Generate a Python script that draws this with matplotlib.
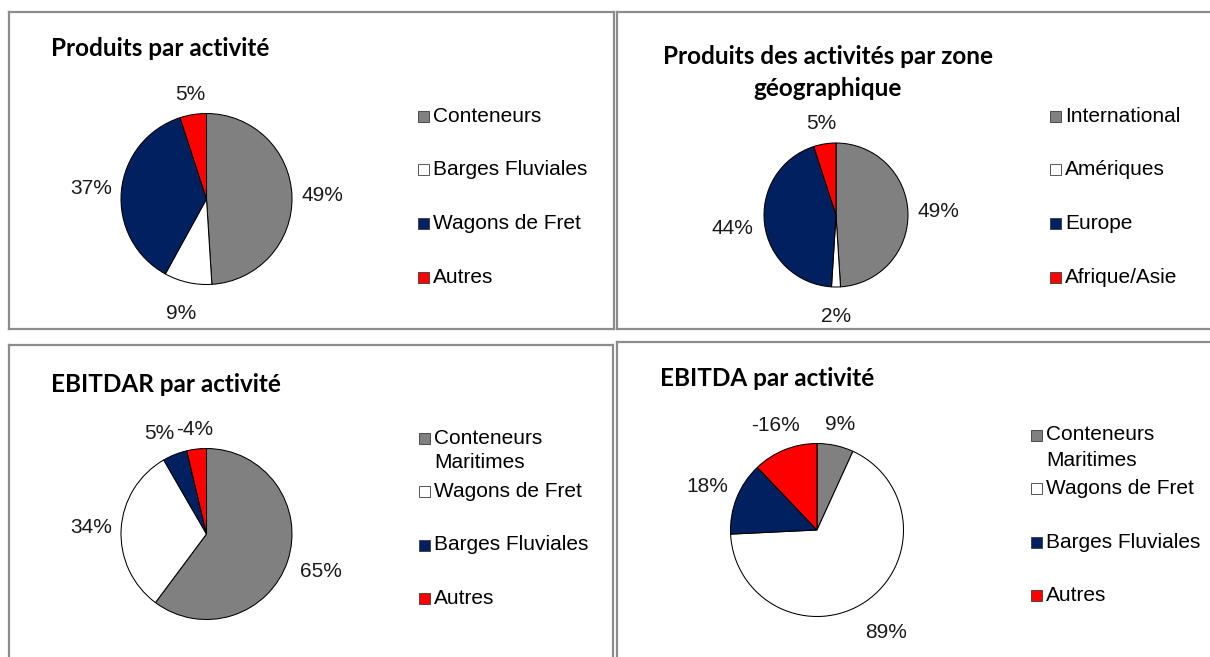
import matplotlib
matplotlib.use("Agg")
import matplotlib.pyplot as plt
from matplotlib.patches import Rectangle
import numpy as np

# ---------------- data ----------------
title1 = ["Produits par activité"]
cats1 = ["Conteneurs", "Barges Fluviales", "Wagons de Fret", "Autres"]
vals1 = [49, 9, 37, 5]

title2 = ["Produits des activités par zone", "géographique"]
cats2 = ["International", "Amériques", "Europe", "Afrique/Asie"]
vals2 = [49, 2, 44, 5]

title3 = ["EBITDAR par activité"]
cats3 = ["Conteneurs\nMaritimes", "Wagons de Fret", "Barges Fluviales", "Autres"]
vals3 = [65, 34, 5, -4]

title4 = ["EBITDA par activité"]
cats4 = ["Conteneurs\nMaritimes", "Wagons de Fret", "Barges Fluviales", "Autres"]
vals4 = [9, 89, 18, -16]

colors = ["#808080", "#FFFFFF", "#002060", "#FF0000"]

# ---------------- layout (pixels) ----------------
W, H = 1210, 657
fig = plt.figure(figsize=(W / 100, H / 100), dpi=100)
ax = fig.add_axes([0, 0, 1, 1])


def Y(y):
    return H - y


LABEL_FONT = "Liberation Sans"
TITLE_FONT = "Lato"
FS = 15
TFS = 17.5

panels = [
    dict(title=title1, tpos=(51, 48), tha="left", cats=cats1, vals=vals1,
         center=(206.5, 199), r=85.5, leg=(418, 116), dy=53.7),
    dict(title=title2, tpos=(828, 56), tha="center", cats=cats2, vals=vals2,
         center=(836, 215), r=72, leg=(1050, 116), dy=53.7),
    dict(title=title3, tpos=(51, 384), tha="left", cats=cats3, vals=vals3,
         center=(206.5, 534), r=85.5, leg=(419, 438), dy=53.5),
    dict(title=title4, tpos=(660, 378), tha="left", cats=cats4, vals=vals4,
         center=(817, 530), r=86.5, leg=(1031, 435), dy=53.5),
]

# panel borders
border_c = "#8c8c8c"
blw = 1.6
segs = [
    # top-left
    [(9, 12), (614, 12)], [(9, 12), (9, 329)], [(9, 329), (614, 329)], [(614, 12), (614, 329)],
    # top-right
    [(617, 12), (1215, 12)], [(617, 12), (617, 329)], [(617, 329), (1215, 329)],
    # bottom-left
    [(9, 345), (613, 345)], [(9, 345), (9, 665)], [(613, 345), (613, 665)],
    # bottom-right
    [(617, 342), (1215, 342)], [(617, 342), (617, 665)],
]
for (x0, y0), (x1, y1) in segs:
    ax.plot([x0, x1], [Y(y0), Y(y1)], color=border_c, lw=blw, solid_capstyle="projecting",
            clip_on=False)

renderer = fig.canvas.get_renderer()

for p in panels:
    cx, cy = p["center"]
    r = p["r"]
    vals = p["vals"]
    wedges, _ = ax.pie(np.abs(vals), colors=colors, startangle=90, counterclock=False,
                       center=(cx, Y(cy)), radius=r,
                       wedgeprops=dict(edgecolor="black", linewidth=0.75))

    # percentage labels, outside end
    items = []
    for w, v in zip(wedges, vals):
        mid = np.deg2rad((w.theta1 + w.theta2) / 2)
        ux, uy = np.cos(mid), np.sin(mid)
        t = ax.text(0, 0, f"{v}%", ha="center", va="center", fontsize=FS,
                    family=LABEL_FONT, color="#1a1a1a")
        bb = t.get_window_extent(renderer)
        hw = bb.width / 2
        hh = 9 if uy > 0 else 20
        d = r + 9 + abs(ux) * hw + abs(uy) * hh
        items.append([t, cx + ux * d, Y(cy) + uy * d, hw])
    # simple overlap avoidance: move the left-hand label further left
    for i in range(len(items)):
        for j in range(i + 1, len(items)):
            a, b = items[i], items[j]
            if abs(a[2] - b[2]) < 18:
                need = a[3] + b[3] + 1
                dx = b[1] - a[1]
                if abs(dx) < need:
                    push = need - abs(dx)
                    if dx >= 0:
                        a[1] -= push
                    else:
                        b[1] -= push
    for t, x, y, _ in items:
        t.set_position((x, y))

    # title
    tx, ty = p["tpos"]
    for k, line in enumerate(p["title"]):
        ax.text(tx, Y(ty + 32 * k), line, ha=p["tha"], va="center", fontsize=TFS,
                family=TITLE_FONT, fontweight="bold", color="black")

    # legend
    lx, ly = p["leg"]
    for i, (c, lab) in enumerate(zip(colors, p["cats"])):
        yy = ly + p["dy"] * i
        ax.add_patch(Rectangle((lx, Y(yy) - 5.5), 11, 11, facecolor=c,
                               edgecolor="#3a3a3a", linewidth=0.6, clip_on=False))
        for k, line in enumerate(lab.split("\n")):
            ax.text(lx + 15, Y(yy + 25 * k), line, ha="left", va="center",
                    fontsize=FS, family=LABEL_FONT, color="black")

ax.set_xlim(0, W)
ax.set_ylim(0, H)
ax.set_aspect("auto")
ax.axis("off")

fig.savefig("out.png", dpi=100, facecolor="white")
